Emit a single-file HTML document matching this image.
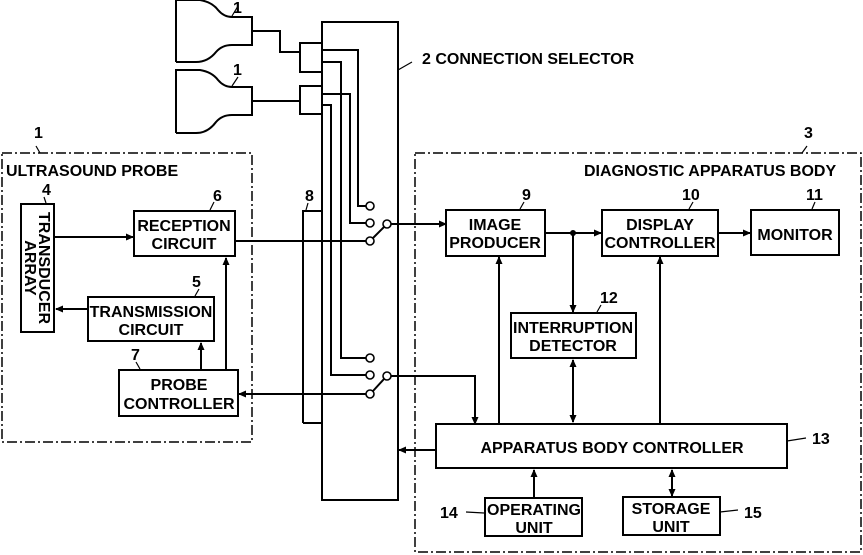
<!DOCTYPE html>
<html><head><meta charset="utf-8"><style>
body{margin:0;background:#fff}
svg{display:block}
text{font-family:"Liberation Sans",sans-serif;font-weight:bold;font-size:16px;fill:#000}
</style></head><body>
<svg width="863" height="555" viewBox="0 0 863 555" xmlns="http://www.w3.org/2000/svg">
<defs><marker id="a" markerWidth="8" markerHeight="8" refX="7" refY="4" orient="auto" markerUnits="userSpaceOnUse"><path d="M0,0.5 L8,4 L0,7.5z" fill="#000"/></marker>
<marker id="s" markerWidth="8" markerHeight="8" refX="1" refY="4" orient="auto" markerUnits="userSpaceOnUse"><path d="M8,0.5 L0,4 L8,7.5z" fill="#000"/></marker></defs>
<g fill="none" stroke="#000" stroke-width="2">
<path d="M176,62 L176,0 L200,0 Q212,2 218,10 Q224,17 232,17 L252,17 L252,45 L232,45 Q222,45 216,52 Q208,62 196,62 L176,62"/>
<path d="M176,133 L176,70 L200,70 Q212,72 218,80 Q224,87 232,87 L252,87 L252,115 L232,115 Q222,115 216,122 Q208,133 196,133 L176,133"/>
<path d="M252,31 L280,31 L280,52 L300,52"/>
<path d="M252,101 L300,101"/>
<rect x="300" y="43" width="22" height="29"/>
<rect x="300" y="86" width="22" height="28"/>
<rect x="322" y="22" width="76" height="478"/>
<path d="M303,423 L303,211 L322,211 M303,423 L322,423"/>
<path d="M322,50 L358,50 L358,206 L366,206"/>
<path d="M322,62 L341,62 L341,358 L366,358"/>
<path d="M322,94 L350,94 L350,223 L366,223"/>
<path d="M322,105 L331,105 L331,375 L366,375"/>
<path d="M373,238 L384,227 M373,391 L384,379"/>
<path d="M391,224 L446,224" marker-end="url(#a)"/>
<path d="M391,376 L475,376 L475,424" marker-end="url(#a)"/>
<path d="M436,450 L399,450" marker-end="url(#a)"/>
<path d="M235,241 L366,241"/>
<path d="M366,394 L239,394" marker-end="url(#a)"/>
</g>
<g fill="#fff" stroke="#000" stroke-width="1.6">
<circle cx="370" cy="206" r="4"/><circle cx="370" cy="223" r="4"/><circle cx="370" cy="241" r="4"/><circle cx="387" cy="224" r="4"/>
<circle cx="370" cy="358" r="4"/><circle cx="370" cy="375" r="4"/><circle cx="370" cy="394" r="4"/><circle cx="387" cy="376" r="4"/>
</g>
<g fill="none" stroke="#000" stroke-width="1.5" stroke-dasharray="10,3,2,3">
<rect x="2" y="153" width="250" height="289"/>
<rect x="415" y="153" width="446" height="399"/>
</g>
<g fill="none" stroke="#000" stroke-width="2">
<rect x="21" y="204" width="33" height="128"/>
<rect x="134" y="211" width="101" height="45"/>
<rect x="88" y="297" width="126" height="44"/>
<rect x="119" y="370" width="119" height="46"/>
<path d="M55,237 L133,237" marker-end="url(#a)"/>
<path d="M88,309 L56,309" marker-end="url(#a)"/>
<path d="M201,370 L201,343" marker-end="url(#a)"/>
<path d="M226,370 L226,258" marker-end="url(#a)"/>
<rect x="446" y="210" width="99" height="46"/>
<rect x="602" y="210" width="116" height="46"/>
<rect x="751" y="210" width="88" height="45"/>
<rect x="511" y="313" width="125" height="45"/>
<rect x="436" y="424" width="351" height="44"/>
<rect x="485" y="498" width="97" height="38"/>
<rect x="623" y="497" width="97" height="38"/>
<path d="M545,233 L601,233" marker-end="url(#a)"/>
<path d="M718,233 L750,233" marker-end="url(#a)"/>
<path d="M573,233 L573,312" marker-end="url(#a)"/>
<path d="M499,424 L499,257" marker-end="url(#a)"/>
<path d="M660,424 L660,257" marker-end="url(#a)"/>
<path d="M573,360 L573,422" marker-start="url(#s)" marker-end="url(#a)"/>
<path d="M534,498 L534,470" marker-end="url(#a)"/>
<path d="M672,470 L672,496" marker-start="url(#s)" marker-end="url(#a)"/>
</g>
<circle cx="573" cy="233" r="3" fill="#000"/>
<g fill="none" stroke="#000" stroke-width="1.2">
<path d="M232,16 L238,6 M232,86 L238,77 M398,70 L412,62 M46,203 L44,197 M210,210 L214,202 M195,296 L199,289 M140,369 L136,362 M306,210 L308,203 M520,209 L524,202 M689,209 L693,202 M812,209 L815,202 M597,312 L601,305 M787,441 L806,438 M466,512 L484,513 M720,512 L738,510 M802,153 L807,146 M40,153 L36,146"/>
</g>
<text x="233" y="13">1</text><text x="233" y="75">1</text>
<text x="422" y="64">2 CONNECTION SELECTOR</text>
<text x="34" y="138">1</text><text x="804" y="138">3</text>
<text x="6" y="176">ULTRASOUND PROBE</text>
<text x="584" y="176">DIAGNOSTIC APPARATUS BODY</text>
<text x="42" y="195">4</text><text x="213" y="201">6</text><text x="192" y="287">5</text><text x="131" y="360">7</text><text x="305" y="201">8</text>
<text x="522" y="200">9</text><text x="682" y="200">10</text><text x="806" y="200">11</text><text x="600" y="303">12</text>
<text x="812" y="444">13</text><text x="440" y="518">14</text><text x="744" y="518">15</text>
<text transform="translate(39,268) rotate(90)" text-anchor="middle">TRANSDUCER</text>
<text transform="translate(25,268) rotate(90)" text-anchor="middle">ARRAY</text>
<g text-anchor="middle">
<text x="184" y="231">RECEPTION</text><text x="184" y="249">CIRCUIT</text>
<text x="151" y="317">TRANSMISSION</text><text x="151" y="335">CIRCUIT</text>
<text x="179" y="390">PROBE</text><text x="179" y="409">CONTROLLER</text>
<text x="495" y="230">IMAGE</text><text x="495" y="248">PRODUCER</text>
<text x="660" y="230">DISPLAY</text><text x="660" y="248">CONTROLLER</text>
<text x="795" y="240">MONITOR</text>
<text x="573" y="333">INTERRUPTION</text><text x="573" y="351">DETECTOR</text>
<text x="612" y="453">APPARATUS BODY CONTROLLER</text>
<text x="534" y="515">OPERATING</text><text x="534" y="533">UNIT</text>
<text x="671" y="514">STORAGE</text><text x="671" y="532">UNIT</text>
</g>
</svg>
</body></html>
